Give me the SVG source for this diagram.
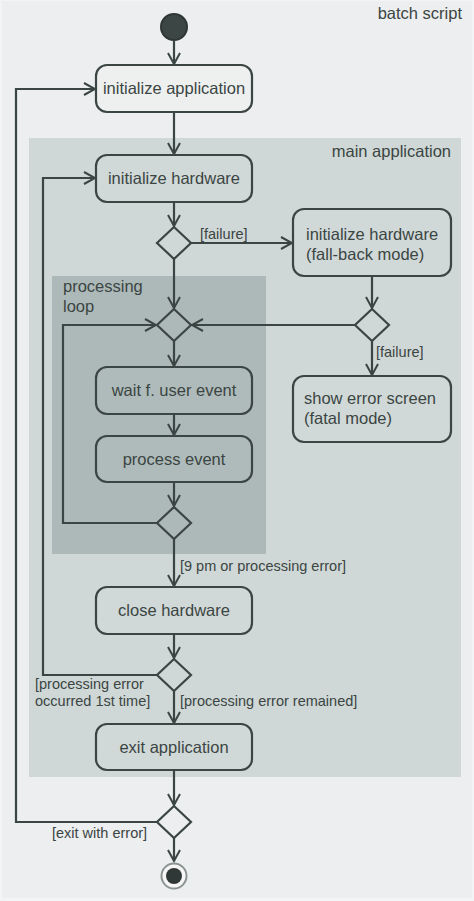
<svg xmlns="http://www.w3.org/2000/svg" width="474" height="901" viewBox="0 0 474 901">
<defs>
<marker id="arr" markerUnits="userSpaceOnUse" markerWidth="14" markerHeight="14" viewBox="0 0 14 14" refX="12" refY="7" orient="auto">
<path d="M1,1 L12,7 L1,13" fill="none" stroke="#3b4543" stroke-width="2"/>
</marker>
<style>
.box{stroke:#3b4543;stroke-width:2.2}
.t{font-family:"Liberation Sans",Arial,sans-serif;font-size:16.5px;fill:#3b4543}
.lbl{font-family:"Liberation Sans",Arial,sans-serif;font-size:14.5px;fill:#3b4543}
.c{text-anchor:middle}
.e{stroke:#3b4543;stroke-width:2.2;fill:none}
.dia{fill:none;stroke:#3b4543;stroke-width:2.2}
</style>
</defs>
<rect x="0" y="0" width="474" height="901" fill="#f3f4f5"/>
<rect x="2" y="1" width="470" height="897" fill="#eceeef"/>
<text class="t" x="462" y="19" text-anchor="end">batch script</text>
<g id="main-application">
<rect x="29" y="138" width="432" height="639" fill="#cfd8d6"/>
<text class="t" x="451" y="157" text-anchor="end">main application</text>
</g>
<g id="processing-loop">
<rect x="52" y="276" width="214" height="278" fill="#adb9b8"/>
<text class="t" x="63" y="292">processing</text>
<text class="t" x="63" y="312">loop</text>
</g>
<g id="connectors">
<path class="e" d="M174,41 V64" marker-end="url(#arr)"/>
<path class="e" d="M174,112 V154" marker-end="url(#arr)"/>
<path class="e" d="M174,202 V226" marker-end="url(#arr)"/>
<path class="e" d="M191,243 H292" marker-end="url(#arr)"/>
<path class="e" d="M174,259 V308" marker-end="url(#arr)"/>
<path class="e" d="M372,276 V308" marker-end="url(#arr)"/>
<path class="e" d="M355,325 H192" marker-end="url(#arr)"/>
<path class="e" d="M372,341 V375" marker-end="url(#arr)"/>
<path class="e" d="M174,341 V366" marker-end="url(#arr)"/>
<path class="e" d="M174,414 V435" marker-end="url(#arr)"/>
<path class="e" d="M174,482 V506" marker-end="url(#arr)"/>
<path class="e" d="M157,523 H63 V325 H156" marker-end="url(#arr)"/>
<path class="e" d="M174,539 V586" marker-end="url(#arr)"/>
<path class="e" d="M174,634 V658" marker-end="url(#arr)"/>
<path class="e" d="M157,675 H43 V178 H95" marker-end="url(#arr)"/>
<path class="e" d="M174,691 V723" marker-end="url(#arr)"/>
<path class="e" d="M174,770 V805" marker-end="url(#arr)"/>
<path class="e" d="M157,822 H16 V89 H95" marker-end="url(#arr)"/>
<path class="e" d="M174,838 V861" marker-end="url(#arr)"/>
<text class="lbl" x="200" y="239">[failure]</text>
<text class="lbl" x="376" y="357">[failure]</text>
<text class="lbl" x="180" y="571">[9 pm or processing error]</text>
<text class="lbl" x="35" y="689">[processing error</text>
<text class="lbl" x="35" y="706">occurred 1st time]</text>
<text class="lbl" x="180" y="706">[processing error remained]</text>
<text class="lbl" x="52" y="838">[exit with error]</text>
</g>
<g id="start"><circle cx="174" cy="27" r="13" fill="#3c4644" stroke="#2f3735" stroke-width="2"/></g>
<g id="init-app">
<rect class="box" x="96" y="65" width="156" height="47" rx="11" fill="#eef0f0"/>
<text class="t c" x="174" y="94">initialize application</text>
</g>
<g id="init-hw">
<rect class="box" x="96" y="155" width="156" height="47" rx="11" fill="#d1d9d8"/>
<text class="t c" x="174" y="184">initialize hardware</text>
</g>
<g id="d1"><path class="dia" d="M174,227 L191,243 L174,259 L157,243 Z"/></g>
<g id="init-hw-fallback">
<rect class="box" x="293" y="209" width="158" height="67" rx="11" fill="#d1d9d8"/>
<text class="t" x="306" y="240">initialize hardware</text>
<text class="t" x="306" y="260">(fall-back mode)</text>
</g>
<g id="d2"><path class="dia" d="M174,309 L191,325 L174,341 L157,325 Z"/></g>
<g id="d3"><path class="dia" d="M372,309 L389,325 L372,341 L355,325 Z"/></g>
<g id="show-error">
<rect class="box" x="293" y="376" width="158" height="66" rx="11" fill="#d1d9d8"/>
<text class="t" x="304" y="404">show error screen</text>
<text class="t" x="304" y="424">(fatal mode)</text>
</g>
<g id="wait-event">
<rect class="box" x="96" y="367" width="156" height="47" rx="11" fill="#afbbba"/>
<text class="t c" x="174" y="396">wait f. user event</text>
</g>
<g id="process-event">
<rect class="box" x="96" y="436" width="156" height="46" rx="11" fill="#afbbba"/>
<text class="t c" x="174" y="465">process event</text>
</g>
<g id="d4"><path class="dia" d="M174,507 L191,523 L174,539 L157,523 Z"/></g>
<g id="close-hw">
<rect class="box" x="96" y="587" width="156" height="47" rx="11" fill="#d1d9d8"/>
<text class="t c" x="174" y="616">close hardware</text>
</g>
<g id="d5"><path class="dia" d="M174,659 L191,675 L174,691 L157,675 Z"/></g>
<g id="exit-app">
<rect class="box" x="96" y="724" width="156" height="46" rx="11" fill="#d1d9d8"/>
<text class="t c" x="174" y="753">exit application</text>
</g>
<g id="d6"><path class="dia" d="M174,806 L191,822 L174,838 L157,822 Z"/></g>
<g id="end">
<circle cx="174" cy="876" r="12.5" fill="#f6f6f6" stroke="#8c9492" stroke-width="2"/>
<circle cx="174" cy="876" r="8" fill="#2f3836"/>
</g>
</svg>
